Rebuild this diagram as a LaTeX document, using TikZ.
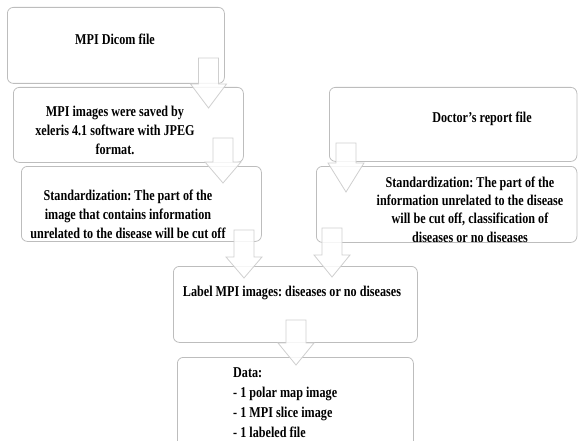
\documentclass[tikz,border=0pt]{standalone}
\usepackage{fontspec}
\setmainfont{Liberation Serif}[FakeStretch=0.81]
\frenchspacing
\definecolor{boxgray}{HTML}{BDBDBD}
\definecolor{arrgray}{HTML}{CFCFCF}
\newcommand\blockarr[4]{%
  \draw[blk] (#1-10,#2) -- (#1+10,#2) -- (#1+10,#3) -- (#1+18,#3) -- (#1,#4) -- (#1-18,#3) -- (#1-10,#3) -- cycle;}
\begin{document}
\begin{tikzpicture}[x=1pt,y=-1pt,
  box/.style={draw=boxgray, rounded corners=6pt, line width=0.8pt, anchor=north west, inner sep=0pt},
  blk/.style={draw=arrgray, fill=white, fill opacity=0.85, line width=0.8pt},
  txt/.style={font=\fontsize{15}{19}\selectfont\bfseries, align=center, inner sep=0pt}]
\useasboundingbox (0,0) rectangle (578,441);
\clip (0,0) rectangle (578,441);
% boxes
\node[box, minimum width=217pt, minimum height=76pt] (b1) at (7,7) {};
\node[box, minimum width=230pt, minimum height=75pt] (b2) at (13,87) {};
\node[box, minimum width=240pt, minimum height=75pt] (b3) at (21,166) {};
\node[box, minimum width=247.5pt, minimum height=74pt] (doc) at (329,87) {};
\node[box, minimum width=260.5pt, minimum height=76pt] (rs) at (316,166) {};
\node[box, minimum width=244pt, minimum height=76pt] (lab) at (173,266) {};
\node[box, minimum width=236pt, minimum height=100pt] (data) at (177,357) {};
% block arrows
\blockarr{208.5}{58}{84}{108}
\blockarr{223}{138}{162}{183}
\blockarr{244}{230}{257}{278}
\blockarr{346}{143}{163}{192}
\blockarr{332}{228}{255}{277}
\blockarr{296}{320}{343}{365}
% texts
\node[txt] (t1) at (115,39) {MPI Dicom file};
\node[txt] (t2) at (115,130.5) {MPI images were saved by\\xeleris 4.1 software with JPEG\\format.};
\node[txt] (t3) at (128,214) {Standardization: The part of the\\image that contains information\\unrelated to the disease will be cut off};
\node[txt] (td) at (482,119) {Doctor’s report file};
\node[txt, font=\fontsize{15}{18.3}\selectfont\bfseries] (trs) at (470,209.5) {Standardization: The part of the\\information unrelated to the disease\\will be cut off, classification of\\diseases or no diseases};
\node[txt] (tl) at (292,293) {Label MPI images: diseases or no diseases};
\node[txt, align=left, anchor=west, font=\fontsize{15}{20}\selectfont\bfseries] (tdata) at (233,402.5) {Data:\\- 1 polar map image\\- 1 MPI slice image\\- 1 labeled file};
\end{tikzpicture}
\end{document}
